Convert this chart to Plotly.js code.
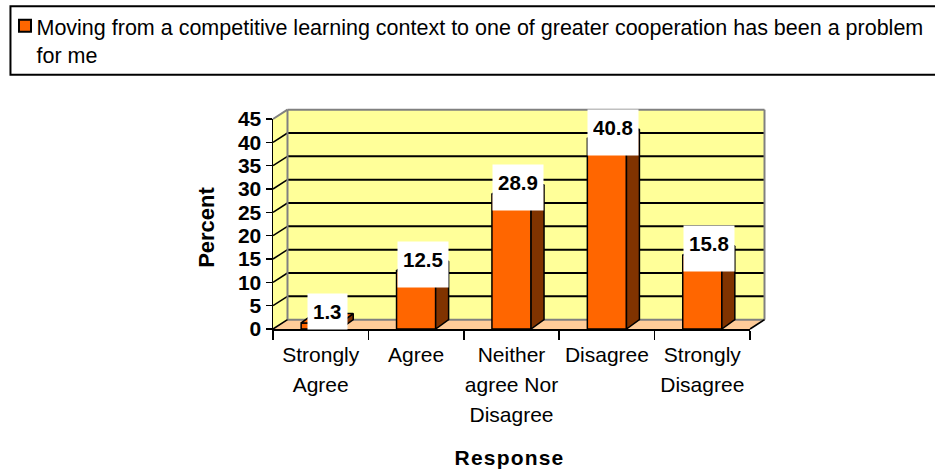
<!DOCTYPE html>
<html>
<head>
<meta charset="utf-8">
<script src="https://cdn.plot.ly/plotly-3.0.1.min.js"></script>
<style>
html,body{margin:0;padding:0;background:#fff;overflow:hidden}
#chart{width:935px;height:472px}
.xtitle{letter-spacing:1.2px}
</style>
</head>
<body>
<div id="chart"></div>
<script>
const seriesName = "Moving from a competitive learning context to one of greater cooperation has been a problem<br>for me";
const categories = ["Strongly<br>Agree", "Agree", "Neither<br>agree Nor<br>Disagree", "Disagree", "Strongly<br>Disagree"];
const percentValues = [1.3, 12.5, 28.9, 40.8, 15.8];
const valueTicks = [0, 5, 10, 15, 20, 25, 30, 35, 40, 45];
const xAxisTitle = "Response";
const yAxisTitle = "Percent";

const FONT = "Liberation Sans, Arial, sans-serif";
const BAR_W = 0.41, BAR_DX = 0.136, DEPTH_Y = 2, WALL_DX = 0.152;
const YMAX = 45, X0 = -0.5, X1 = 4.5, PLOT_H = 210;
const px = x => (x - X0) / (X1 - X0);
const py = y => y / YMAX;
const poly = pts => "M" + pts.map(p => px(p[0]) + "," + py(p[1])).join("L") + "Z";
const seg = (a, b, color, w) => ({type:"line", xref:"paper", yref:"paper", layer:"below",
  x0:px(a[0]), y0:py(a[1]), x1:px(b[0]), y1:py(b[1]), line:{color:color, width:w}});
const area = (pts, fill) => ({type:"path", xref:"paper", yref:"paper", layer:"below", path:poly(pts), fillcolor:fill, line:{width:0}});

const bx0 = X0 + WALL_DX, bx1 = X1 + WALL_DX, by1 = YMAX + DEPTH_Y;
const shapes = [
  area([[X0,0],[bx0,DEPTH_Y],[bx0,by1],[X0,YMAX]], "#FFFF99"),
  area([[bx0,DEPTH_Y],[bx1,DEPTH_Y],[bx1,by1],[bx0,by1]], "#FFFF99"),
  area([[X0,0],[X1,0],[bx1,DEPTH_Y],[bx0,DEPTH_Y]], "#FFCC99")
];
valueTicks.slice(1, -1).forEach(v => {
  shapes.push(seg([X0,v],[bx0,v+DEPTH_Y],"#000",1.5));
  shapes.push(seg([bx0,v+DEPTH_Y],[bx1,v+DEPTH_Y],"#000",2));
});
shapes.push(seg([bx0,DEPTH_Y],[bx1,DEPTH_Y],"#808080",2));
shapes.push(seg([bx0,DEPTH_Y],[bx0,by1],"#808080",2));
shapes.push(seg([bx1,DEPTH_Y],[bx1,by1],"#808080",2));
shapes.push(seg([bx0,by1],[bx1,by1],"#808080",2));
shapes.push(seg([X0,YMAX],[bx0,by1],"#808080",2));
shapes.push(seg([X0,0],[bx0,DEPTH_Y],"#000",1.5));
shapes.push(seg([X1,0],[bx1,DEPTH_Y],"#000",1.5));
shapes.push({type:"rect", xref:"paper", yref:"paper", layer:"below",
  x0:(10-272.7)/477.3, x1:(940-272.7)/477.3, y0:(329.3-75)/210, y1:(329.3-6.5)/210,
  fillcolor:"#fff", line:{color:"#000", width:2}});

const sideX = [], sideY = [], topX = [], topY = [];
percentValues.forEach((v, i) => {
  const l = i - BAR_W/2, r = i + BAR_W/2;
  sideX.push(r, r+BAR_DX, r+BAR_DX, r, r, null);
  sideY.push(0, DEPTH_Y, v+DEPTH_Y, v, 0, null);
  topX.push(l, r, r+BAR_DX, l+BAR_DX, l, null);
  topY.push(v, v, v+DEPTH_Y, v+DEPTH_Y, v, null);
});

const traces = [
  {type:"bar", name:seriesName, x:categories, y:percentValues, width:BAR_W,
   marker:{color:"#FF6600", line:{color:"#000", width:1.5}}, hoverinfo:"x+y"},
  {type:"scatter", mode:"lines", x:sideX, y:sideY, xaxis:"x2", fill:"toself", fillcolor:"#803300",
   line:{color:"#000", width:1.5}, cliponaxis:false, showlegend:false, hoverinfo:"skip"},
  {type:"scatter", mode:"lines", x:topX, y:topY, xaxis:"x2", fill:"toself", fillcolor:"#FF6600",
   line:{color:"#000", width:1.5}, cliponaxis:false, showlegend:false, hoverinfo:"skip"}
];

const LABEL_LIFT = 30, LABEL_BOX = 45;
const annotations = percentValues.map((v, i) => ({
  xref:"x", yref:"y", x:categories[i], y:v, xshift:6.5, yshift:LABEL_LIFT,
  xanchor:"center", yanchor:"top", valign:"top",
  text:"<b>"+v.toFixed(1)+"</b>", showarrow:false, bgcolor:"#fff", borderpad:5,
  height:Math.min(LABEL_BOX, v*PLOT_H/YMAX + LABEL_LIFT - 1) - 10,
  font:{family:FONT, size:20.5, color:"#000"}
}));

const layout = {
  width:935, height:472,
  margin:{l:272.7, r:185, t:119.3, b:142.7, pad:0, autoexpand:false},
  paper_bgcolor:"#fff", plot_bgcolor:"rgba(0,0,0,0)",
  font:{family:FONT, color:"#000"},
  bargap:0.59,
  xaxis:{type:"category", tickson:"boundaries", ticks:"outside", ticklen:9, tickwidth:1.5, tickcolor:"#000",
    range:[X0,X1], categoryorder:"array", categoryarray:categories,
    showline:true, linecolor:"#000", linewidth:2, showgrid:false, zeroline:false,
    tickfont:{family:FONT, size:21}, tickangle:0, ticklabelstandoff:6,
    title:{text:"<b>"+xAxisTitle+"</b>", font:{family:FONT, size:21}}},
  xaxis2:{overlaying:"x", range:[X0,X1], visible:false, type:"linear"},
  yaxis:{range:[0,YMAX], tickvals:valueTicks, ticks:"outside", ticklen:6, tickwidth:1.5, tickcolor:"#000",
    showline:true, linecolor:"#000", linewidth:1.5,
    showgrid:false, zeroline:false, tickfont:{family:FONT, size:21, weight:700}, ticklabelstandoff:0,
    title:{text:"<b>"+yAxisTitle+"</b>", font:{family:FONT, size:22}}},
  showlegend:true,
  legend:{x:(-4-272.7)/477.3, xanchor:"left", y:(329.3-6)/210, yanchor:"top",
    bgcolor:"rgba(0,0,0,0)", borderwidth:0, font:{family:FONT, size:21.5, color:"#000"}, itemclick:false},
  shapes:shapes, annotations:annotations
};

Plotly.newPlot("chart", traces, layout, {displayModeBar:false, staticPlot:true}).then(() => {
  const spacing = (sel, gap) => document.querySelectorAll(sel).forEach(t => {
    t.querySelectorAll("tspan.line").forEach((s, i) => s.setAttribute("dy", (i*gap)+"px"));
  });
  spacing(".xtick text", 30); spacing(".legendtext", 28);
  const nudge = (sel, dx, dy) => {
    const t = document.querySelector(sel);
    if (t) t.setAttribute("transform", "translate("+dx+","+dy+") " + (t.getAttribute("transform") || ""));
  };
  nudge(".xtitle", -2, 23);
  nudge(".ytitle", -5, 3.5);
  document.querySelectorAll(".annotation-text").forEach(t => {
    t.setAttribute("transform", "translate(0,1)");
  });
  document.querySelectorAll(".legend .legendpoints path, .legend .legendsymbols path").forEach(p => {
    if (!p.getAttribute("d") || p.getAttribute("d") === "M0,0") return;
    p.setAttribute("transform", "translate(28.5,-14.5)");
    p.style.stroke = "#000";
    p.style.strokeWidth = "2px";
  });
});
</script>
</body>
</html>
